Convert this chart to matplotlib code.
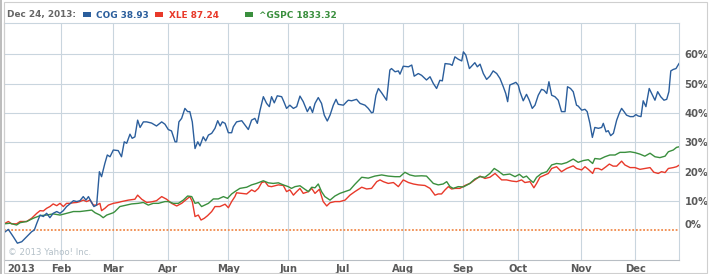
import matplotlib
matplotlib.use("Agg")
import matplotlib.pyplot as plt
from matplotlib.patches import Rectangle
from matplotlib.lines import Line2D
from matplotlib.transforms import ScaledTranslation

# ---- data (x = trading-day index since Jan 2 2013, y = % change) ----
cog_x = [0, 1.6, 3.4, 4.9, 6.5, 8.3, 10.1, 11.1, 12.0, 13.2, 14.4, 15.6, 16.8, 18.0, 19.3, 20.5, 21.7, 22.9,
         24.1, 25.4, 26.6, 27.8, 29.0, 30.0, 30.9, 32.1, 32.9, 33.9, 34.9, 35.7, 36.9, 37.8, 38.8, 40.0,
         41.8, 43.0, 44.0, 44.9, 46.1, 46.9, 47.9, 48.9, 49.8, 51.0, 52.2, 54.0, 55.8, 57.7, 58.9, 60.1,
         61.3, 62.6, 63.2, 64.0, 65.0, 66.2, 67.2, 68.0, 68.9, 69.9, 70.9, 71.7, 72.9, 73.8, 74.8, 76.0,
         77.2, 78.2, 79.1, 79.9, 80.9, 82.1, 83.3, 83.9, 85.1, 87.0, 88.2, 89.4, 90.6, 91.8, 92.7, 93.7,
         94.9, 96.1, 97.1, 97.9, 98.9, 100.0, 101.6, 102.4, 103.4, 104.6, 105.9, 107.1, 108.3, 109.5,
         111.0, 112.0, 112.9, 113.8, 115.0, 116.2, 117.2, 118.3, 119.3, 120.5, 121.5, 122.3, 124.2, 125.4,
         126.0, 127.2, 129.0, 130.3, 132.1, 133.3, 134.5, 135.1, 136.1, 137.0, 138.2, 140.0, 141.2, 141.8,
         143.1, 144.3, 144.9, 146.1, 148.0, 149.2, 150.1, 151.6, 152.8, 154.6, 155.9, 157.1, 158.3, 159.5,
         160.4, 161.4, 163.2, 164.0, 165.0, 166.2, 167.5, 168.1, 169.0, 170.3, 171.1, 172.3, 173.2, 174.2,
         175.4, 176.6, 177.8, 179.0, 180.3, 181.5, 182.7, 183.6, 184.3, 185.1, 186.4, 187.3, 188.2, 188.8,
         190.0, 191.2, 192.2, 193.3, 194.3, 195.5, 196.7, 197.6, 198.6, 199.4, 200.4, 201.6, 202.8, 204.0,
         205.3, 206.2, 207.3, 208.3, 209.5, 210.1, 211.4, 212.6, 213.4, 214.4, 215.3, 216.2, 217.5, 218.7,
         219.3, 220.3, 221.1, 222.0, 223.0, 224.2, 225.2, 226.0, 226.9, 227.8, 229.1, 230.3, 231.2, 232.1,
         233.1, 233.9, 234.9, 236.1, 237.0, 238.2, 239.2, 240.3, 241.5, 242.5, 243.3, 244.0, 244.9, 245.9,
         246.7, 247.0]
cog_y = [-0.8, 0.3, -2.2, -4.4, -3.9, -2.2, -0.5, 0.1, 2.4, 5.2, 4.7, 5.8, 4.3, 5.8, 6.4, 5.8, 6.7, 8.1,
         9.0, 10.1, 9.8, 10.1, 11.5, 10.3, 11.5, 9.4, 8.1, 8.6, 20.0, 18.3, 22.8, 25.7, 25.1, 27.4,
         27.2, 25.1, 30.2, 29.7, 32.8, 31.4, 31.9, 37.6, 35.1, 37.0, 37.0, 36.6, 35.6, 37.0, 36.2, 34.4,
         33.9, 30.2, 30.2, 37.0, 38.2, 41.6, 40.5, 40.5, 37.0, 27.9, 30.2, 28.8, 31.9, 30.5, 32.5, 33.1,
         34.8, 37.4, 35.6, 37.0, 36.5, 33.3, 33.3, 35.3, 37.0, 37.4, 35.9, 34.4, 37.6, 38.2, 36.5, 41.0,
         45.6, 43.3, 42.2, 45.6, 43.5, 45.9, 45.6, 43.9, 41.6, 42.7, 41.6, 42.2, 45.8, 43.9,
         40.5, 42.2, 40.2, 43.3, 45.3, 43.3, 39.3, 37.3, 39.3, 42.7, 44.7, 43.0, 42.7, 43.9,
         44.4, 44.2, 44.7, 43.3, 42.7, 41.6, 40.1, 40.3, 46.1, 48.4, 46.9, 44.4, 54.7, 55.2,
         54.1, 54.4, 53.3, 56.0, 55.8, 56.4, 52.6, 53.5, 52.9, 51.3, 52.4, 50.1, 48.4, 51.2,
         51.0, 56.9, 56.7, 56.3, 59.2, 58.4, 57.8, 60.9, 59.8, 55.2, 56.0, 57.2, 55.8, 56.7,
         53.5, 51.5, 52.6, 54.4, 53.5, 51.8, 49.0, 46.7, 43.9, 49.6, 50.1, 50.5, 49.5, 47.3,
         44.2, 46.4, 44.4, 41.6, 42.7, 46.1, 48.1, 47.8, 46.7, 50.7, 46.1, 45.6, 44.4, 40.5,
         40.5, 49.0, 48.4, 47.3, 42.7, 42.4, 41.0, 41.3, 40.5, 36.5, 31.7, 35.1, 34.8, 35.1,
         36.5, 33.6, 34.0, 32.3, 33.1, 37.6, 40.1, 41.6, 40.5, 39.3, 38.8, 38.8, 39.5, 39.0,
         38.8, 44.2, 42.2, 48.4, 46.7, 44.4, 47.3, 45.6, 44.4, 44.7, 47.3, 54.4, 54.9, 55.2,
         56.4, 56.9]

xle_x = [0, 1.6, 2.8, 4.6, 5.9, 8.3, 10.1, 12.0, 13.2, 14.4, 15.6, 16.8, 18.0, 19.3, 20.5, 21.7, 22.9,
         24.1, 25.4, 26.6, 27.8, 29.0, 30.2, 31.5, 32.7, 33.9, 35.1, 35.7, 36.9, 38.2, 40.0,
         41.8, 43.0, 45.5, 47.9, 48.9, 50.4, 52.2, 54.0, 55.8, 57.7, 59.5, 61.3, 63.2, 65.0, 66.8, 68.0,
         68.9, 69.9, 71.1, 72.1, 73.3, 74.5, 76.0, 77.2, 79.0, 80.9, 82.1, 83.3, 84.5,
         85.1, 87.0, 88.8, 90.6, 91.8, 93.1, 94.3, 95.5, 96.7, 97.9, 99.2, 100.4, 102.2, 103.4, 104.6,
         105.9, 107.1, 108.3, 109.5, 111.4, 112.6, 113.8, 115.4, 116.8, 118.1, 119.3, 121.1, 122.9, 124.8,
         126.6, 128.4, 130.9, 132.7, 134.5, 136.4, 137.6, 138.8, 140.6, 142.5, 144.3, 146.1, 148.0, 149.8,
         151.6, 154.0, 155.9, 157.7, 158.9, 160.1, 161.4, 162.6, 163.8, 165.0, 166.8,
         168.7, 170.5, 172.3, 174.2, 176.0, 177.8, 179.7, 180.9, 182.1, 183.9, 185.8, 187.6, 189.4, 190.6,
         192.5, 193.9, 194.9, 196.1, 198.0, 199.2, 200.4, 202.2, 204.0, 205.9, 208.3, 209.5,
         211.4, 212.6, 213.8, 215.4, 216.2, 217.5, 218.7, 220.3, 221.5, 222.9, 224.2, 226.0, 227.2, 229.1,
         230.9, 232.7, 234.5, 236.4, 237.8, 239.4, 240.6, 241.9, 243.1, 244.9, 246.1, 247.0]
xle_y = [2.2, 3.0, 2.2, 2.2, 3.0, 3.0, 4.1, 5.8, 6.7, 6.6, 7.5, 8.1, 9.0, 8.4, 9.2, 8.1, 9.2,
         9.2, 9.4, 9.5, 9.8, 10.3, 9.8, 10.3, 8.6, 8.6, 9.2, 6.7, 7.5, 8.6, 9.2,
         9.5, 9.8, 10.3, 10.6, 12.0, 10.6, 9.5, 9.7, 10.1, 11.5, 10.6, 9.2, 8.3, 9.2, 10.6, 11.5,
         9.8, 4.7, 5.2, 3.5, 4.1, 5.0, 6.4, 8.1, 8.1, 8.9, 7.7, 9.8, 11.5,
         12.8, 12.6, 12.4, 13.8, 13.2, 14.3, 16.3, 16.6, 15.1, 14.9, 15.2, 15.5, 15.3, 13.2, 13.8,
         12.0, 13.2, 14.3, 12.6, 13.2, 14.3, 12.6, 14.0, 9.8, 8.3, 9.4, 9.8, 9.8, 10.3,
         12.0, 13.2, 14.7, 14.1, 14.3, 16.6, 17.2, 16.6, 16.0, 16.3, 14.9, 17.2, 16.3, 15.8,
         15.5, 15.3, 14.3, 12.0, 12.4, 12.4, 13.8, 14.9, 14.1, 14.3, 14.3,
         15.3, 16.0, 17.2, 18.5, 17.7, 18.1, 19.4, 18.3, 17.2, 17.2, 16.8, 16.6, 17.2, 16.3,
         16.6, 14.5, 16.0, 18.1, 18.9, 19.4, 21.1, 21.7, 20.0, 21.1, 22.0, 21.1,
         20.6, 21.7, 20.8, 19.4, 21.1, 21.1, 20.6, 21.7, 22.6, 21.9, 21.9, 23.6, 22.3, 21.4,
         21.4, 20.8, 21.1, 21.4, 19.8, 19.4, 20.0, 19.7, 21.1, 21.4, 21.7, 22.2]

gspc_x = [0, 2.2, 4.6, 5.9, 8.3, 10.7, 13.2, 15.6, 18.0, 20.5, 22.9, 25.4, 27.8, 30.2, 32.1, 33.3, 35.1,
          36.3, 37.6, 40.0, 40.6, 42.4, 44.3, 46.7, 49.1, 51.0, 52.8, 54.6, 56.5, 58.9, 60.1, 62.0,
          63.8, 65.6, 67.2, 68.7, 69.9, 71.1, 72.3, 74.8, 76.6, 78.4, 80.3, 81.8, 83.3,
          84.5, 86.3, 88.8, 90.6, 92.4, 94.9, 96.7, 98.5, 100.4, 102.2, 104.0, 105.2, 106.5, 108.3,
          110.1, 111.4, 112.6, 113.8, 115.0, 116.2, 117.4, 119.3, 121.1, 122.9, 124.8,
          126.6, 128.4, 130.9, 133.3, 135.7, 138.2, 140.6, 143.1, 144.9, 146.7, 148.5, 150.4, 152.8,
          154.6, 155.9, 157.1, 158.9, 160.7, 162.0, 163.2, 164.4, 166.2,
          168.1, 170.5, 172.3, 174.2, 176.0, 177.8, 179.4, 180.9, 182.7, 185.1, 187.0, 188.6, 190.0,
          191.2, 192.5, 193.7, 194.9, 196.7, 198.6, 200.4, 202.2, 204.0, 205.9, 208.3,
          210.1, 212.0, 213.8, 215.4, 216.2, 218.1, 219.9, 221.7, 223.6, 225.4, 227.2, 229.1, 230.9,
          232.7, 234.5, 236.4, 238.2, 240.0, 241.9, 243.1, 244.9, 246.1, 247.0]
gspc_y = [2.2, 2.4, 1.8, 2.6, 3.0, 4.1, 5.0, 5.2, 5.6, 5.2, 5.8, 6.4, 6.4, 6.7, 6.9, 6.0, 5.2,
          4.3, 5.2, 6.0, 6.4, 8.1, 8.5, 9.0, 9.2, 9.5, 8.6, 9.2, 9.2, 9.8, 9.8, 9.2,
          9.2, 10.3, 11.7, 11.5, 9.2, 9.5, 8.1, 9.2, 10.7, 10.7, 11.5, 10.9, 12.4,
          13.2, 14.3, 14.7, 15.5, 16.0, 16.9, 16.2, 16.0, 16.2, 15.5, 14.9, 14.3, 14.9, 15.2,
          14.0, 13.2, 14.7, 14.5, 15.8, 13.2, 11.5, 10.3, 11.7, 12.6, 13.2,
          13.8, 15.7, 18.1, 17.8, 18.5, 18.9, 18.5, 18.3, 18.3, 19.8, 18.9, 18.5, 18.6,
          18.5, 17.2, 16.0, 15.5, 15.8, 16.6, 14.9, 14.3, 14.9,
          14.8, 16.0, 17.5, 18.3, 18.1, 19.4, 21.1, 20.2, 18.9, 19.2, 18.3, 19.1, 18.0,
          18.5, 17.2, 16.3, 18.1, 19.4, 20.0, 22.3, 22.8, 22.6, 23.1, 24.3,
          23.2, 23.8, 24.1, 22.8, 24.5, 24.3, 25.1, 25.7, 25.7, 26.6, 26.6, 26.8, 26.5,
          26.0, 25.3, 26.3, 25.1, 24.8, 25.3, 26.8, 27.4, 28.3, 28.5]

month_pos = [0, 21, 40, 60, 82, 104, 124, 146, 168, 188, 211, 231]
month_labels = ["2013", "Feb", "Mar", "Apr", "May", "Jun", "Jul", "Aug", "Sep", "Oct", "Nov", "Dec"]
y_ticks = [0, 10, 20, 30, 40, 50, 60]
y_labels = ["0%", "10%", "20%", "30%", "40%", "50%", "60%"]

header_date = "Dec 24, 2013:"
legend_names = ["COG 38.93", "XLE 87.24", "^GSPC 1833.32"]

# ---- styling ----
C_BLUE = "#2b5e9c"
C_RED = "#e8392a"
C_GREEN = "#3a8f3e"
C_GRID = "#c9d5de"
C_TEXT = "#5a5a5a"

W, H = 711, 274
fig = plt.figure(figsize=(W / 100, H / 100), dpi=100)
fig.patch.set_facecolor("white")

def fx(px):
    return px / W

def fy(py):
    return 1 - py / H

# outer frame
fig.add_artist(Rectangle((fx(4), fy(273)), fx(703), (271) / H, transform=fig.transFigure,
                         fill=False, edgecolor="#cfcfcf", lw=0.8))
fig.add_artist(Line2D([fx(0.8), fx(0.8)], [0, 1], transform=fig.transFigure, color="#b0b0b0", lw=1.2))

ax = fig.add_axes([fx(4), fy(260), fx(675), 237 / H])
ax.set_facecolor("white")
ax.set_xlim(0, 247)
ax.set_ylim(-10.14, 70.75)

ax.plot(xle_x, xle_y, color=C_RED, lw=1.0, zorder=3)
ax.plot(gspc_x, gspc_y, color=C_GREEN, lw=1.0, zorder=3)
ax.plot(cog_x, cog_y, color=C_BLUE, lw=1.0, zorder=4)

ax.axhline(0, color="#f08a4b", lw=1.3, ls=(0, (1, 1)), zorder=2)

for m in month_pos[1:]:
    ax.axvline(m, color=C_GRID, lw=0.8, zorder=1)
for yv in y_ticks[1:]:
    ax.axhline(yv, color=C_GRID, lw=0.8, zorder=1)

for side in ["top", "right"]:
    ax.spines[side].set_color(C_GRID)
    ax.spines[side].set_linewidth(0.8)
for side in ["left", "bottom"]:
    ax.spines[side].set_color("#b8bec4")
    ax.spines[side].set_linewidth(0.8)

ax.set_xticks(month_pos)
ax.set_xticklabels(month_labels)
ax.tick_params(axis="x", length=0, pad=3, labelsize=7.2, labelcolor=C_TEXT)
for lab in ax.get_xticklabels():
    lab.set_fontweight("bold")
first = ax.get_xticklabels()[0]
first.set_ha("left")
first.set_transform(first.get_transform() + ScaledTranslation(3 / 100, 0, fig.dpi_scale_trans))

ax.yaxis.tick_right()
ax.set_yticks(y_ticks)
ax.set_yticklabels(y_labels)
ax.tick_params(axis="y", length=0, pad=4, labelsize=7.2, labelcolor=C_TEXT)
for lab in ax.get_yticklabels():
    lab.set_fontweight("bold")
zl = ax.get_yticklabels()[0]
zl.set_transform(zl.get_transform() + ScaledTranslation(0, 6 / 100, fig.dpi_scale_trans))

ax.text(0.006, 0.033, "\u00a9 2013 Yahoo! Inc.", transform=ax.transAxes, fontsize=6.2,
        color="#b4c0c8", ha="left", va="center")

# header
fig.text(fx(7), fy(15), header_date, fontsize=6.4, fontweight="bold", color="#666666",
         ha="left", va="center")
sq = [(83, C_BLUE), (155, C_RED), (245, C_GREEN)]
txt_x = [96, 169, 259]
for (sx, c), tx, name in zip(sq, txt_x, legend_names):
    fig.add_artist(Rectangle((fx(sx), fy(17)), fx(8), 5 / H, transform=fig.transFigure,
                             facecolor=c, edgecolor="none"))
    fig.text(fx(tx), fy(15), name, fontsize=6.4, fontweight="bold", color=c,
             ha="left", va="center")

fig.savefig("out.png", dpi=100)
